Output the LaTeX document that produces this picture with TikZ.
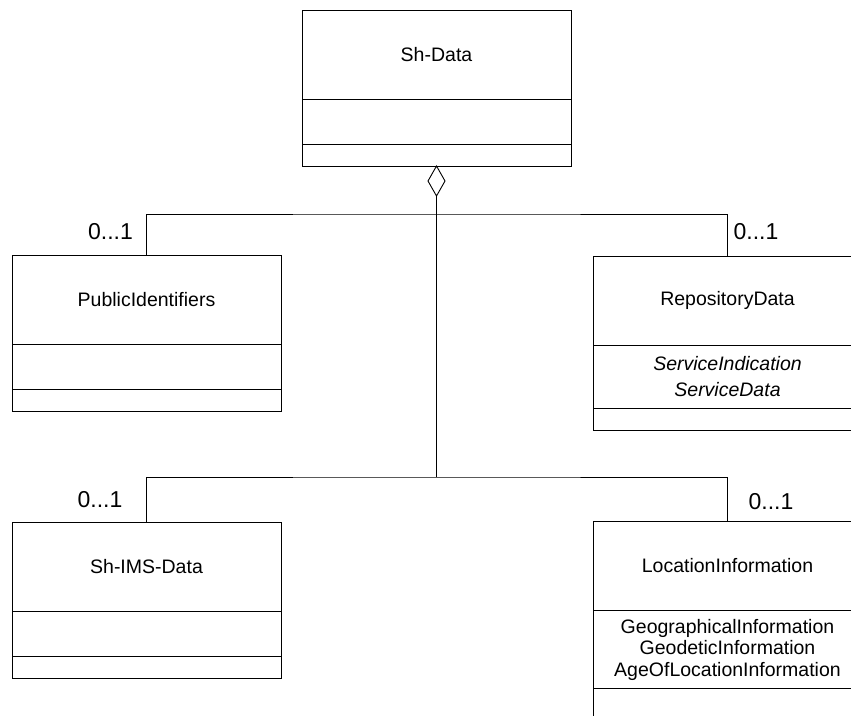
\documentclass[tikz,border=0pt]{standalone}
\usepackage{fontspec}
\setmainfont{Liberation Sans}
\usetikzlibrary{positioning,shapes.geometric}

\tikzset{
  namebox/.style={draw, line width=0.9pt, minimum width=269pt, minimum height=89pt, inner sep=0pt, outer sep=0pt, font=\fontsize{19.5}{21.5}\selectfont},
  attrbox/.style={draw, line width=0.9pt, minimum width=269pt, minimum height=45pt, inner sep=0pt, outer sep=0pt, align=center, font=\fontsize{19.5}{21.5}\selectfont},
  opsbox/.style={draw, line width=0.9pt, minimum width=269pt, minimum height=22pt, inner sep=0pt, outer sep=0pt},
  mult/.style={font=\fontsize{23}{26}\selectfont, inner sep=0pt},
  link/.style={line width=0.9pt}
}

\begin{document}
\begin{tikzpicture}[x=1pt, y=-1pt]
% Page size and cut at the edges
\useasboundingbox (0, 0) rectangle (851, 715);
\clip (0, 0) rectangle (851, 715);
% Sh-Data class on top
\node[namebox] (shdata) at (436.5, 54.5) {Sh-Data};
\node[attrbox, below=0pt of shdata] (shdata attr) {};
\node[opsbox, below=0pt of shdata attr] (shdata ops) {};
% Aggregation diamond under Sh-Data
\node[draw, line width=0.9pt, diamond, minimum width=17pt, minimum height=30pt, inner sep=0pt, outer sep=0pt, below=0pt of shdata ops] (agg) {};
% PublicIdentifiers class
\node[namebox] (pubid) at (146.5, 299.5) {PublicIdentifiers};
\node[attrbox, below=0pt of pubid] (pubid attr) {};
\node[opsbox, below=0pt of pubid attr] (pubid ops) {};
% RepositoryData class with italic attributes
\node[namebox] (repo) at (727.5, 300.5) {RepositoryData};
\node[attrbox, minimum height=63pt, font=\fontsize{19.5}{25.5}\selectfont\itshape, below=0pt of repo] (repo attr) {ServiceIndication\\ServiceData};
\node[opsbox, below=0pt of repo attr] (repo ops) {};
% Sh-IMS-Data class
\node[namebox] (imsdata) at (146.5, 566.5) {Sh-IMS-Data};
\node[attrbox, below=0pt of imsdata] (imsdata attr) {};
\node[opsbox, below=0pt of imsdata attr] (imsdata ops) {};
% LocationInformation class, cut by the page bottom
\node[namebox] (locinfo) at (727.5, 566) {LocationInformation};
\node[attrbox, minimum height=78pt, below=0pt of locinfo] (locinfo attr) {GeographicalInformation\\GeodeticInformation\\AgeOfLocationInformation};
\node[opsbox, minimum height=30pt, below=0pt of locinfo attr] (locinfo ops) {};
% Bus points of the two branch levels
\coordinate (upper bus) at (436.5, 214);
\coordinate (lower bus) at (436.5, 477);
% Trunk from the diamond down
\draw[link] (agg.south) -- (lower bus);
% Upper branches
\draw[link] (pubid.north) |- (upper bus) -| (repo.north);
% Lower branches
\draw[link] (imsdata.north) |- (lower bus) -| (locinfo.north);
% Multiplicities
\node[mult] (pubid mult) at (110.5, 232) {0...1};
\node[mult] (repo mult) at (756, 232) {0...1};
\node[mult] (imsdata mult) at (100, 500) {0...1};
\node[mult] (locinfo mult) at (771, 502) {0...1};
\end{tikzpicture}
\end{document}
